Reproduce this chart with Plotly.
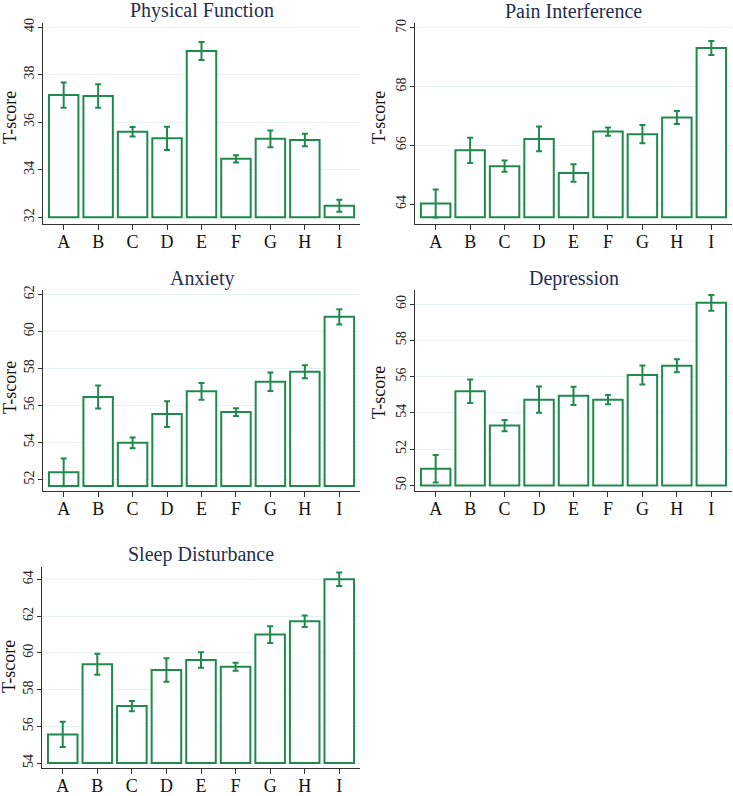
import plotly.graph_objects as go

W, H = 733, 796

groups = ["A", "B", "C", "D", "E", "F", "G", "H", "I"]

titles = ["Physical Function", "Pain Interference", "Anxiety", "Depression", "Sleep Disturbance"]

phys_mean = [37.14, 37.10, 35.60, 35.32, 38.99, 34.46, 35.30, 35.25, 32.49]
phys_err = [0.53, 0.49, 0.20, 0.49, 0.38, 0.15, 0.35, 0.26, 0.25]

pain_mean = [64.02, 65.83, 65.29, 66.22, 65.06, 66.47, 66.38, 66.95, 69.32]
pain_err = [0.48, 0.43, 0.19, 0.42, 0.30, 0.14, 0.31, 0.22, 0.24]

anx_mean = [52.39, 56.45, 53.98, 55.53, 56.76, 55.64, 57.28, 57.82, 60.78]
anx_err = [0.75, 0.62, 0.29, 0.69, 0.45, 0.21, 0.50, 0.35, 0.41]

dep_mean = [50.92, 55.19, 53.30, 54.73, 54.94, 54.73, 56.09, 56.60, 60.07]
dep_err = [0.76, 0.65, 0.31, 0.72, 0.50, 0.26, 0.52, 0.36, 0.44]

sleep_mean = [55.56, 59.38, 57.10, 59.07, 59.61, 59.24, 60.99, 61.72, 64.00]
sleep_err = [0.69, 0.57, 0.28, 0.64, 0.42, 0.22, 0.45, 0.31, 0.37]

bases = [32.0, 63.55, 51.65, 50.0, 54.0]
y_ranges = [[31.72, 40.17], [63.32, 70.17], [51.38, 62.23], [49.69, 60.78], [53.73, 64.67]]
y_ticks = [[32, 34, 36, 38, 40], [64, 66, 68, 70], [52, 54, 56, 58, 60, 62],
           [50, 52, 54, 56, 58, 60], [54, 56, 58, 60, 62, 64]]

means = [phys_mean, pain_mean, anx_mean, dep_mean, sleep_mean]
errs = [phys_err, pain_err, anx_err, dep_err, sleep_err]

# panel pixel boxes: (left, right, top, bottom)
boxes = [(43, 360, 23, 224), (415, 732, 23, 224), (43, 360, 290, 491),
         (415, 732, 290, 491), (42, 360, 567, 768)]
title_pos = [(201.5, 11), (573.5, 11), (201.5, 278), (573.5, 278), (201, 554)]
ytitle_pos = [(10, 118), (379, 118), (10, 388), (379, 393), (9, 667)]

GREEN = "#1f8a4c"
SERIF = "Liberation Serif"

fig = go.Figure()
annotations = []
layout = {}
for i in range(5):
    sfx = "" if i == 0 else str(i + 1)
    base = bases[i]
    heights = [m - base for m in means[i]]
    fig.add_trace(go.Bar(
        x=groups, y=heights, base=base,
        width=0.855,
        marker=dict(color="white", line=dict(color=GREEN, width=2)),
        error_y=dict(type="data", array=errs[i], visible=True,
                     color=GREEN, thickness=2, width=3),
        xaxis="x" + sfx, yaxis="y" + sfx, showlegend=False,
    ))
    l, r, t, b = boxes[i]
    layout["xaxis" + sfx] = dict(
        domain=[l / W, r / W], anchor="y" + sfx, automargin=False,
        type="category", range=[-0.6, 8.6],
        showline=True, linecolor="#333333", linewidth=1,
        ticks="outside", ticklen=5, tickcolor="#333333",
        ticklabelstandoff=-4,
        showgrid=False, zeroline=False,
        tickfont=dict(family=SERIF, size=18, color="#111111"),
    )
    layout["yaxis" + sfx] = dict(
        domain=[1 - b / H, 1 - t / H], anchor="x" + sfx, automargin=False,
        range=y_ranges[i], tickvals=y_ticks[i],
        showline=True, linecolor="#333333", linewidth=1,
        ticks="outside", ticklen=4, tickcolor="#333333",
        ticklabelstandoff=-2,
        showgrid=True, gridcolor="#e6f1f4", gridwidth=1,
        zeroline=False, tickangle=-90,
        tickfont=dict(family=SERIF, size=14, color="#222222"),
    )
    tx, ty = title_pos[i]
    annotations.append(dict(
        text=titles[i], x=tx / W, y=1 - ty / H, xref="paper", yref="paper",
        xanchor="center", yanchor="middle", showarrow=False,
        font=dict(family=SERIF, size=20, color="#1f2d55"),
    ))
    ax_, ay_ = ytitle_pos[i]
    annotations.append(dict(
        text="T-score", x=ax_ / W, y=1 - ay_ / H, xref="paper", yref="paper",
        xanchor="center", yanchor="middle", showarrow=False, textangle=-90,
        font=dict(family=SERIF, size=18, color="#111111"),
    ))

fig.update_layout(
    width=W, height=H,
    margin=dict(l=0, r=0, t=0, b=0),
    paper_bgcolor="white", plot_bgcolor="white",
    annotations=annotations,
    **layout,
)

fig.write_html("out.html", config={"displayModeBar": False},
               post_script="document.body.style.margin='0';")
